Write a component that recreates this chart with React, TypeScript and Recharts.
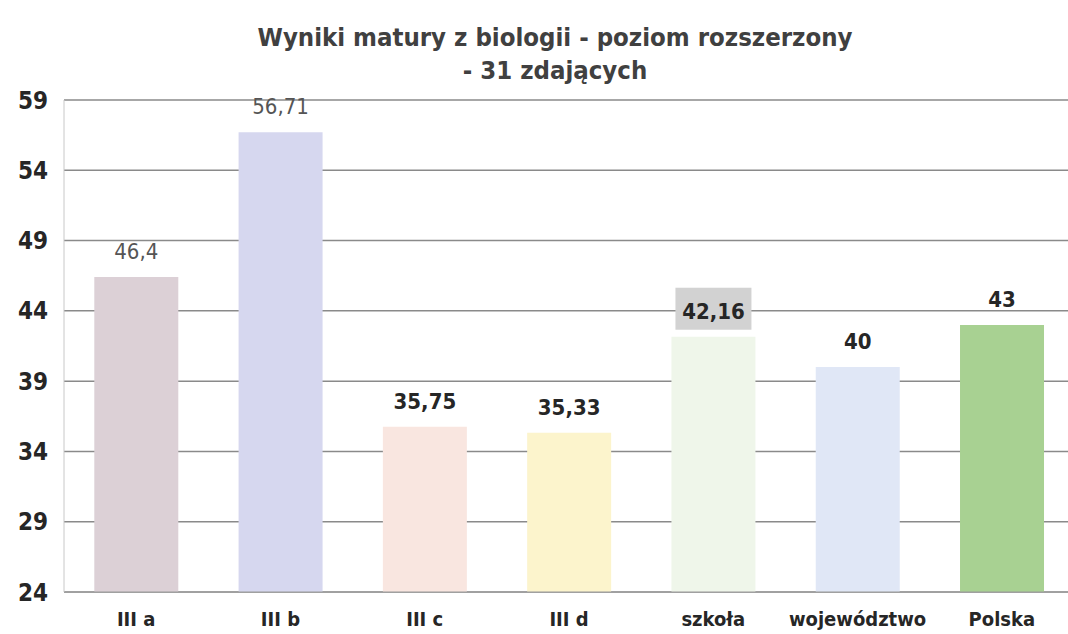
import React from 'react';
import { BarChart, Bar, XAxis, YAxis, CartesianGrid, Cell, LabelList } from 'recharts';

const categories = ['III a', 'III b', 'III c', 'III d', 'szkoła', 'województwo', 'Polska'];
const scores = [46.4, 56.71, 35.75, 35.33, 42.16, 40, 43];
const yTicks = [24, 29, 34, 39, 44, 49, 54, 59];

const barColors = ['#dcd0d6', '#d6d7ef', '#f9e6e0', '#fcf4cc', '#eff6ea', '#e0e7f6', '#a8d192'];
const boldLabel = [false, false, true, true, true, true, true];

const FONT = '"DejaVu Sans Condensed", "Open Sans", sans-serif';

const data = categories.map((name, i) => ({ name, value: scores[i] }));

const fmt = (v: number) => String(v).replace('.', ',');

const ValueLabel = (props: any) => {
  const { x, y, width, value, index } = props;
  const cx = x + width / 2;
  const bold = boldLabel[index];
  return (
    <g>
      {index === 4 && (
        <rect x={cx - 38} y={y - 49} width={76} height={42} fill="#d2d2d2" />
      )}
      <text
        x={cx}
        y={y - 18}
        textAnchor="middle"
        fontFamily={FONT}
        fontSize={22}
        fontWeight={bold ? 700 : 400}
        fill={bold ? '#262626' : '#555555'}
      >
        {fmt(value)}
      </text>
    </g>
  );
};

export default function App() {
  return (
    <div style={{ position: 'absolute', left: 0, top: 0, width: 1068, height: 634, overflow: 'hidden', background: '#fff' }}>
      <div
        style={{
          position: 'absolute',
          left: 0,
          top: 21,
          width: 1110,
          textAlign: 'center',
          fontFamily: FONT,
          fontWeight: 700,
          fontSize: 25.5,
          lineHeight: '33px',
          color: '#404040',
        }}
      >
        Wyniki matury z biologii - poziom rozszerzony
        <br />
        - 31 zdających
      </div>
      <BarChart
        width={1074}
        height={634}
        data={data}
        margin={{ top: 100, right: 0, bottom: 0, left: 6 }}
        barCategoryGap="21%"
      >
        <CartesianGrid vertical={false} stroke="#8a8a8a" strokeWidth={1.5} />
        <XAxis
          dataKey="name"
          height={42}
          axisLine={{ stroke: '#9a9a9a' }}
          tickLine={false}
          tick={{ fontFamily: FONT, fontSize: 20, fontWeight: 700, fill: '#262626' }}
          tickMargin={14}
          interval={0}
        />
        <YAxis
          width={58}
          domain={[24, 59]}
          ticks={yTicks}
          axisLine={{ stroke: '#c8c8c8' }}
          tickLine={false}
          tick={{ fontFamily: FONT, fontSize: 24, fontWeight: 700, fill: '#262626', dx: -8 }}
          allowDataOverflow
        />
        <Bar dataKey="value" isAnimationActive={false}>
          {data.map((d, i) => (
            <Cell key={d.name} fill={barColors[i]} />
          ))}
          <LabelList dataKey="value" content={ValueLabel} />
        </Bar>
      </BarChart>
    </div>
  );
}
